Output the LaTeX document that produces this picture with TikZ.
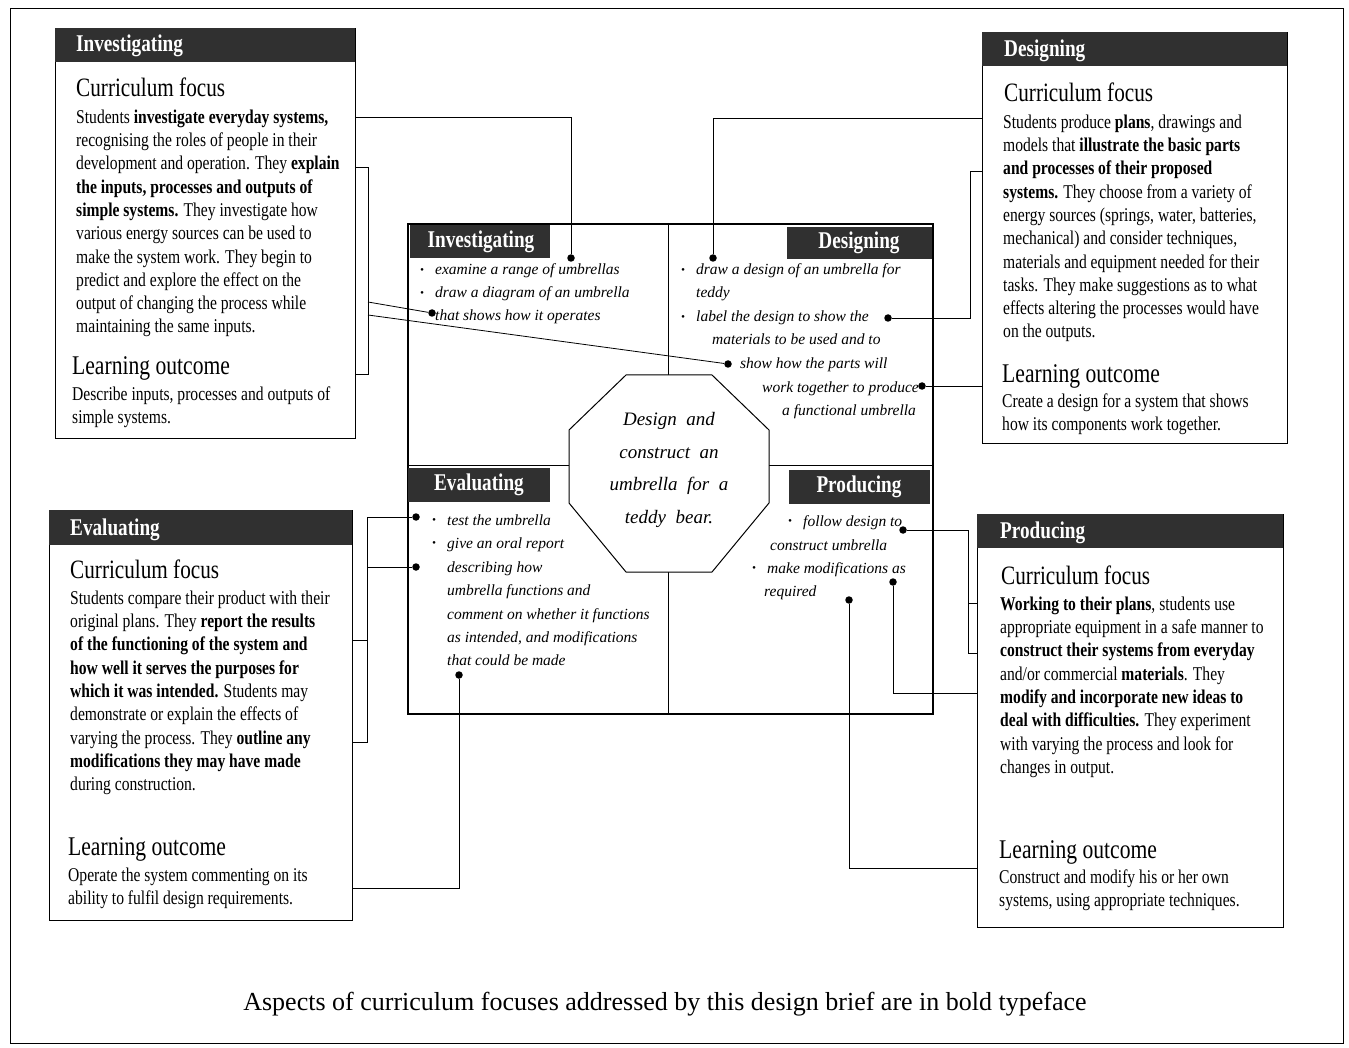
\documentclass[tikz,border=0pt]{standalone}
\usepackage{fontspec}
\setmainfont{Liberation Serif}[FakeStretch=0.8]
\newfontfamily\handfont{Liberation Serif}
\newfontfamily\notefont{Liberation Serif}
\definecolor{headgrey}{HTML}{303030}
\newcommand{\bull}{\makebox[15pt][l]{\raisebox{.25ex}{\fontsize{11}{11}\selectfont\textbullet}}}
\tikzset{
  panel/.style={draw, line width=1.2pt, anchor=north west, inner sep=0pt},
  headtext/.style={text=white, font=\fontsize{24}{26}\selectfont\bfseries, inner sep=0pt},
  focus/.style={anchor=base west, inner sep=0pt, font=\fontsize{26.5}{28}\selectfont},
  outcome/.style={anchor=base west, inner sep=0pt, font=\fontsize{27}{28}\selectfont},
  body/.style={anchor=north west, align=left, inner sep=0pt, font=\fontsize{19.5}{23.3}\selectfont},
  hand/.style={anchor=base west, inner sep=0pt, font=\handfont\itshape\fontsize{15.5}{20}\selectfont},
  dot/.style={circle, fill, inner sep=0pt, minimum size=7.5pt},
  link/.style={line width=0.8pt}
}
\begin{document}
\begin{tikzpicture}[x=1pt, y=-1pt]
\useasboundingbox (0,0) rectangle (1349,1048);
\draw[line width=0.8pt] (10,8) rectangle (1343,1043);

% outer panels
\node[panel, minimum width=300pt, minimum height=410pt] (invL) at (55,28) {};
\fill[headgrey] (55,28) rectangle (355,62);
\node[headtext, anchor=base west] at (76,52) {Investigating};
\node[focus] at (76,97) {Curriculum focus};
\node[body] (invCF) at (76,109.5) {Students \textbf{investigate everyday systems,}\\
recognising the roles of people in their\\
development and operation. They \textbf{explain}\\
\textbf{the inputs, processes and outputs of}\\
\textbf{simple systems.} They investigate how\\
various energy sources can be used to\\
make the system work. They begin to\\
predict and explore the effect on the\\
output of changing the process while\\
maintaining the same inputs.};
\node[outcome] at (72,374) {Learning outcome};
\node[body] (invLO) at (72,386.5) {Describe inputs, processes and outputs of\\ simple systems.};

\node[panel, minimum width=305pt, minimum height=411pt] (desR) at (982,32) {};
\fill[headgrey] (982,32) rectangle (1287,66);
\node[headtext, anchor=base west] at (1004,57) {Designing};
\node[focus] at (1004,102) {Curriculum focus};
\node[body] (desCF) at (1003,114.5) {Students produce \textbf{plans}, drawings and\\
models that \textbf{illustrate the basic parts}\\
\textbf{and processes of their proposed}\\
\textbf{systems.} They choose from a variety of\\
energy sources (springs, water, batteries,\\
mechanical) and consider techniques,\\
materials and equipment needed for their\\
tasks. They make suggestions as to what\\
effects altering the processes would have\\
on the outputs.};
\node[outcome] at (1002,382) {Learning outcome};
\node[body] (desLO) at (1002,393.5) {Create a design for a system that shows\\ how its components work together.};

\node[panel, minimum width=303pt, minimum height=410pt] (evaL) at (49,510) {};
\fill[headgrey] (49,510) rectangle (352,545);
\node[headtext, anchor=base west] at (70,535) {Evaluating};
\node[focus] at (70,578) {Curriculum focus};
\node[body] (evaCF) at (70,590.5) {Students compare their product with their\\
original plans. They \textbf{report the results}\\
\textbf{of the functioning of the system and}\\
\textbf{how well it serves the purposes for}\\
\textbf{which it was intended.} Students may\\
demonstrate or explain the effects of\\
varying the process. They \textbf{outline any}\\
\textbf{modifications they may have made}\\
during construction.};
\node[outcome] at (68,855) {Learning outcome};
\node[body] (evaLO) at (68,867.5) {Operate the system commenting on its\\ ability to fulfil design requirements.};

\node[panel, minimum width=306pt, minimum height=413pt] (proR) at (977,514) {};
\fill[headgrey] (977,514) rectangle (1283,548);
\node[headtext, anchor=base west] at (1000,538) {Producing};
\node[focus] at (1001,584) {Curriculum focus};
\node[body] (proCF) at (1000,596.5) {\textbf{Working to their plans}, students use\\
appropriate equipment in a safe manner to\\
\textbf{construct their systems from everyday}\\
and/or commercial \textbf{materials}. They\\
\textbf{modify and incorporate new ideas to}\\
\textbf{deal with difficulties.} They experiment\\
with varying the process and look for\\
changes in output.};
\node[outcome] at (999,858) {Learning outcome};
\node[body] (proLO) at (999,869.5) {Construct and modify his or her own\\ systems, using appropriate techniques.};

% design brief
\node[draw, line width=2.2pt, anchor=north west, minimum width=525pt, minimum height=490pt, inner sep=0pt] (brief) at (407,223) {};
\draw[line width=0.8pt] (668,223) -- (668,375) (668,572) -- (668,713);
\draw[line width=0.8pt] (407,465) -- (569,465) (769,465) -- (932,465);
\fill[headgrey] (410,225) rectangle (550,258);
\node[headtext] (tInv) at (481,242) {Investigating};
\fill[headgrey] (787,227) rectangle (932,259);
\node[headtext] (tDes) at (859,243) {Designing};
\fill[headgrey] (408,468) rectangle (550,502);
\node[headtext] (tEva) at (479,485) {Evaluating};
\fill[headgrey] (789,470) rectangle (930,504);
\node[headtext] (tPro) at (859,487) {Producing};

\draw[line width=1pt, fill=white] (626,375) -- (712,375) -- (769,430) -- (769,503) -- (712,572) -- (626,572) -- (569,503) -- (569,430) -- cycle;
\node[align=center, font=\handfont\itshape\fontsize{19}{32.5}\selectfont] (octa) at (669,470) {Design~~and\\ construct~~an\\ umbrella~~for~~a\\ teddy~~bear.};

\node[hand] at (420,275) {\bull examine a range of umbrellas};
\node[hand] at (420,298) {\bull draw a diagram of an umbrella};
\node[hand] at (435,321) {that shows how it operates};

\node[hand] at (681,275) {\bull draw a design of an umbrella for};
\node[hand] at (696,298) {teddy};
\node[hand] at (681,322) {\bull label the design to show the};
\node[hand] at (712,345) {materials to be used and to};
\node[hand] at (740,369) {show how the parts will};
\node[hand] at (762,392) {work together to produce};
\node[hand] at (782,415) {a functional umbrella};

\node[hand] at (432,525) {\bull test the umbrella};
\node[hand] at (432,548) {\bull give an oral report};
\node[hand] at (447,572) {describing how};
\node[hand] at (447,595) {umbrella functions and};
\node[hand] at (447,619) {comment on whether it functions};
\node[hand] at (447,642) {as intended, and modifications};
\node[hand] at (447,665) {that could be made};

\node[hand] at (788,526) {\bull follow design to};
\node[hand] at (770,550) {construct umbrella};
\node[hand] at (752,573) {\bull make modifications as};
\node[hand] at (764,596) {required};

% dots
\node[dot] (dInvA) at (571,258) {};
\node[dot] (dInvB) at (432,313) {};
\node[dot] (dDesA) at (713,258) {};
\node[dot] (dDesB) at (888,318) {};
\node[dot] (dDesC) at (728,364) {};
\node[dot] (dDesD) at (922,386) {};
\node[dot] (dEvaA) at (416,517) {};
\node[dot] (dEvaB) at (416,567) {};
\node[dot] (dEvaC) at (459,675) {};
\node[dot] (dProA) at (903,530) {};
\node[dot] (dProB) at (893,582) {};
\node[dot] (dProC) at (849,600) {};

% attach points on the panels
\coordinate (aInvA) at (355,117);
\coordinate (aInvB) at (368,302);
\coordinate (aInvC) at (368,315);
\coordinate (aDesA) at (982,118);
\coordinate (aDesD) at (982,386);
\coordinate (aEvaC) at (352,888);
\coordinate (aProB) at (977,693);
\coordinate (aProC) at (977,868);

% connectors
\draw[link] (dInvA) |- (aInvA);
\draw[link] (355,167) -| (368,374) -- (355,374);
\draw[link] (aInvB) -- (dInvB);
\draw[link] (aInvC) -- (dDesC);
\draw[link] (dDesA) |- (aDesA);
\draw[link] (982,171) -| (970,318) -- (dDesB);
\draw[link] (dDesD) -- (aDesD);
\draw[link] (dEvaA) -| (367,640) -- (352,640);
\draw[link] (dEvaB) -| (367,742) -- (352,742);
\draw[link] (dEvaC) |- (aEvaC);
\draw[link] (dProA) -| (968,653) -- (977,653);
\draw[link] (968,603) -- (977,603);
\draw[link] (dProB) |- (aProB);
\draw[link] (dProC) |- (aProC);

\node[anchor=base, inner sep=0pt, font=\notefont\fontsize{26}{30}\selectfont] (note) at (665,1010) {Aspects of curriculum focuses addressed by this design brief are in bold typeface};
\end{tikzpicture}
\end{document}
